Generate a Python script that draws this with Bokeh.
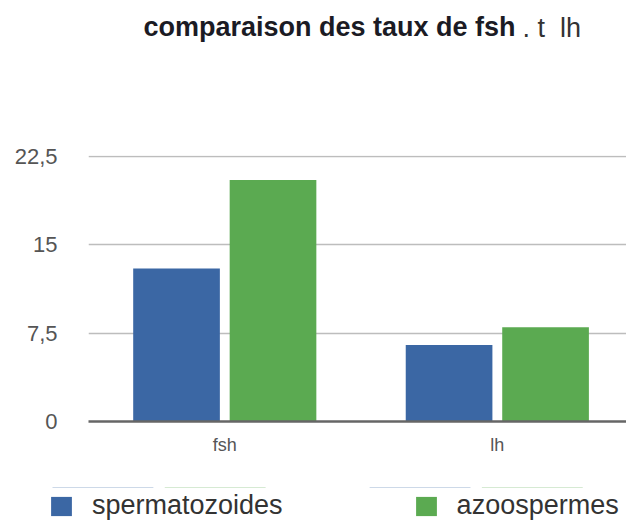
from bokeh.plotting import figure
from bokeh.layouts import column
from bokeh.models import ColumnDataSource, Range1d, FixedTicker, Label, Legend, LegendItem
from bokeh.embed import file_html
from bokeh.resources import INLINE

# ---- data ----
categories = ["fsh", "lh"]
series_names = ["spermatozoides", "azoospermes"]
spermatozoides = [13.0, 6.5]
azoospermes = [20.5, 8.0]
y_tick_values = [0, 7.5, 15, 22.5]
y_tick_labels = ["0", "7,5", "15", "22,5"]
title_bold = "comparaison des taux de fsh"
title_rest = ". t\u00a0\u00a0lh"

colors = ["#3b67a4", "#5baa51"]
FONT = "Liberation Sans"

centers = [i + 0.5 for i in range(len(categories))]
offset = 0.177
bar_w = 0.318

p = figure(
    frame_width=538, frame_height=266,
    x_range=Range1d(0, 1.974), y_range=Range1d(0, 22.585),
    output_backend="svg", toolbar_location=None,
    min_border_left=88, min_border_right=0, min_border_top=155, min_border_bottom=66,
)
p.outline_line_color = None
p.background_fill_color = "white"
p.border_fill_color = "white"

src_a = ColumnDataSource(dict(x=[c - offset for c in centers], top=spermatozoides))
src_b = ColumnDataSource(dict(x=[c + offset for c in centers], top=azoospermes))
r1 = p.vbar(x="x", top="top", width=bar_w, source=src_a, fill_color=colors[0], line_color=None)
r2 = p.vbar(x="x", top="top", width=bar_w, source=src_b, fill_color=colors[1], line_color=None)

# axes
p.xaxis.ticker = FixedTicker(ticks=centers)
p.xaxis.major_label_overrides = {c: lab for c, lab in zip(centers, categories)}
p.xaxis.major_tick_line_color = None
p.xaxis.minor_tick_line_color = None
p.xaxis.axis_line_color = "#666666"
p.xaxis.axis_line_width = 2.5
p.xaxis.major_label_text_font = FONT
p.xaxis.major_label_text_font_size = "18px"
p.xaxis.major_label_text_color = "#555555"
p.xaxis.major_label_standoff = 7

p.yaxis.ticker = FixedTicker(ticks=y_tick_values)
p.yaxis.major_label_overrides = {v: lab for v, lab in zip(y_tick_values, y_tick_labels)}
p.yaxis.axis_line_color = None
p.yaxis.major_tick_line_color = None
p.yaxis.minor_tick_line_color = None
p.yaxis.major_label_text_font = FONT
p.yaxis.major_label_text_font_size = "22px"
p.yaxis.major_label_text_color = "#555555"
p.yaxis.major_label_standoff = 25

p.xgrid.grid_line_color = None
p.ygrid.ticker = FixedTicker(ticks=y_tick_values)
p.ygrid.grid_line_color = "#bdbdbd"
p.ygrid.grid_line_width = 1.5

# title (two styles on one line), placed in the top panel
t1 = Label(x=55, y=129, x_units="screen", y_units="screen", text=title_bold,
           text_font=FONT, text_font_style="bold", text_font_size="27px",
           text_color="#1b1b24", text_baseline="alphabetic")
t2 = Label(x=434, y=98, x_units="screen", y_units="screen", text=title_rest,
           text_font=FONT, text_font_size="27px", text_color="#333333",
           text_baseline="alphabetic")
p.add_layout(t1, "above")
p.add_layout(t2, "above")

# legend strip below the chart (bars of the same data, kept out of its view)
pl = figure(
    width=626, height=34, x_range=Range1d(0, 1.974), y_range=Range1d(-2, -1),
    output_backend="svg", toolbar_location=None,
    min_border_left=0, min_border_right=0, min_border_top=0, min_border_bottom=0,
)
pl.axis.visible = False
pl.grid.visible = False
pl.outline_line_color = None
pl.border_fill_color = "white"
pl.background_fill_color = "white"
lr = [pl.vbar(x="x", top="top", width=bar_w, source=s, fill_color=c, line_color=None)
      for s, c in zip([src_a, src_b], colors)]

unaligned = "frame_align" in pl.properties()
if unaligned:
    pl.frame_align = False
    p.frame_align = False
    loc, spc = (48, 0), 130
else:
    loc, spc = (0, 0), 91

legend = Legend(
    items=[LegendItem(label=n, renderers=[r]) for n, r in zip(series_names, lr)],
    location=loc, orientation="horizontal",
    glyph_width=26, glyph_height=24, label_standoff=18, spacing=spc,
    padding=0, margin=0, border_line_color=None, background_fill_alpha=0,
    label_text_font=FONT, label_text_font_size="27px", label_text_color="#333333",
)
pl.add_layout(legend)

layout = column(p, pl, spacing=0)
open("out.html", "w").write(file_html(layout, INLINE))
